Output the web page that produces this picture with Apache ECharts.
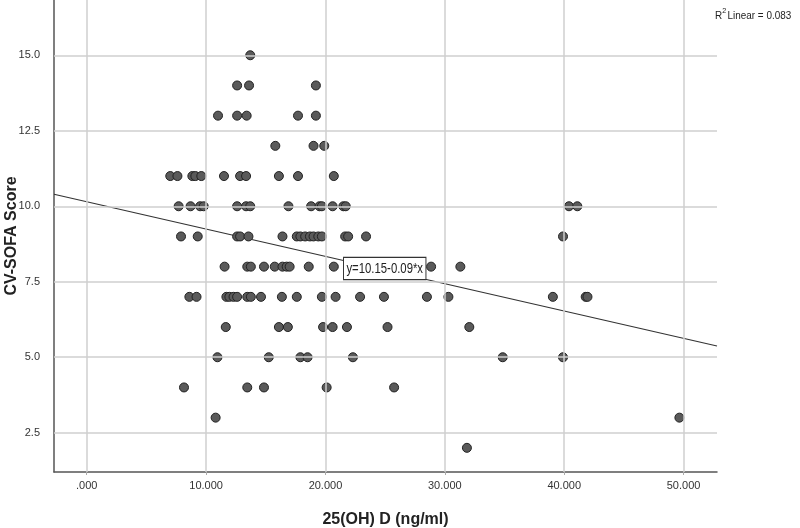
<!DOCTYPE html>
<html>
<head>
<meta charset="utf-8">
<script src="https://cdn.jsdelivr.net/npm/echarts@6/dist/echarts.min.js"></script>
<style>
  html, body { margin: 0; padding: 0; background: #fff; }
  #main { width: 800px; height: 528px; }
</style>
</head>
<body>
<div id="main"></div>
<script>
// 25(OH) D readings, grouped by CV-SOFA score
var score15 = [13.7];
var score14 = [12.6, 13.6, 19.2];
var score13 = [11.0, 12.6, 13.4, 17.7, 19.2];
var score12 = [15.8, 19.0, 19.9];
var score11 = [7.0, 7.6, 8.85, 9.1, 9.6, 11.5, 12.85, 13.35, 16.1, 17.7, 20.7];
var score10 = [7.7, 8.7, 9.5, 9.8, 12.6, 13.35, 13.7, 16.9, 18.8, 19.5, 19.7, 20.6, 21.5, 21.7, 40.4, 41.1];
var score9 = [7.9, 9.3, 12.6, 12.85, 13.55, 16.4, 17.6, 17.9, 18.3, 18.7, 19.0, 19.4, 19.7, 21.65, 21.9, 23.4, 39.9];
var score8 = [11.55, 13.45, 13.75, 14.85, 15.75, 16.4, 16.75, 17.0, 18.6, 20.7, 28.85, 31.3];
var score7 = [8.6, 9.2, 11.7, 11.95, 12.3, 12.6, 13.45, 13.75, 14.6, 16.35, 17.6, 19.7, 20.85, 22.9, 24.9, 28.5, 30.3, 39.05, 41.8, 41.95];
var score6 = [11.65, 16.1, 16.85, 19.8, 20.6, 21.8, 25.2, 32.05];
var score5 = [10.95, 15.25, 17.9, 18.5, 22.3, 34.85, 39.9];
var score4 = [8.15, 13.45, 14.85, 20.1, 25.75];
var score3 = [10.8, 49.65];
var score2 = [31.85];

var xTicks = [0, 10, 20, 30, 40, 50];
var yTicks = [2.5, 5, 7.5, 10, 12.5, 15];
var xMin = -2.74, xMax = 52.8;
var yMin = 1.2, yMax = 16.83;

// fit line: y = 10.15 - 0.09*x
var fitA = 10.15, fitB = -0.0905;

var groups = [
  [15, score15], [14, score14], [13, score13], [12, score12], [11, score11],
  [10, score10], [9, score9], [8, score8], [7, score7], [6, score6],
  [5, score5], [4, score4], [3, score3], [2, score2]
];
var points = [];
groups.forEach(function (g) {
  g[1].forEach(function (x) { points.push([x, g[0]]); });
});

var fitLine = [
  [xMin, fitA + fitB * xMin],
  [xMax, fitA + fitB * xMax]
];

var gridMarks = xTicks.map(function (v) { return { xAxis: v }; })
  .concat(yTicks.map(function (v) { return { yAxis: v }; }));

var font = "'Liberation Sans', Arial, sans-serif";

var chart = echarts.init(document.getElementById('main'));
chart.setOption({
  animation: false,
  backgroundColor: '#fff',
  grid: { left: 54, right: 83, top: 0, bottom: 56, containLabel: false, outerBoundsMode: 'none' },
  xAxis: {
    type: 'value',
    min: xMin,
    max: xMax,
    name: '25(OH) D (ng/ml)',
    nameLocation: 'middle',
    nameGap: 40,
    nameMoveOverlap: false,
    nameTextStyle: { fontFamily: font, fontSize: 16, fontWeight: 'bold', color: '#222' },
    axisLine: { show: true, onZero: false, lineStyle: { color: '#555', width: 1.5 } },
    axisTick: { show: true, length: 3, customValues: xTicks, lineStyle: { color: '#aaa' } },
    axisLabel: {
      customValues: xTicks,
      margin: 8,
      fontFamily: font,
      fontSize: 11,
      color: '#333',
      formatter: function (v) { var s = v.toFixed(3); return v === 0 ? s.slice(1) : s; }
    },
    splitLine: { show: false }
  },
  yAxis: {
    type: 'value',
    min: yMin,
    max: yMax,
    name: 'CV-SOFA Score',
    nameLocation: 'middle',
    nameGap: 34,
    nameMoveOverlap: false,
    nameTextStyle: { fontFamily: font, fontSize: 16, fontWeight: 'bold', color: '#222' },
    axisLine: { show: true, onZero: false, lineStyle: { color: '#555', width: 1.5 } },
    axisTick: { show: false },
    axisLabel: {
      customValues: yTicks,
      margin: 14,
      fontFamily: font,
      fontSize: 11,
      color: '#333',
      formatter: function (v) { return v.toFixed(1); }
    },
    splitLine: { show: false }
  },
  series: [
    {
      // grid lines at the tick values
      type: 'line',
      data: [],
      z: 1,
      silent: true,
      markLine: {
        silent: true,
        symbol: 'none',
        label: { show: false },
        lineStyle: { color: '#cfcfcf', width: 1.5, type: 'solid' },
        data: gridMarks
      }
    },
    {
      type: 'line',
      data: fitLine,
      z: 2,
      silent: true,
      symbol: 'none',
      lineStyle: { color: '#333', width: 1.2 }
    },
    {
      type: 'scatter',
      data: points,
      z: 3,
      symbolSize: 9,
      itemStyle: { color: '#5a5a5a', borderColor: '#222', borderWidth: 1, opacity: 1 }
    }
  ],
  graphic: [
    {
      type: 'text',
      x: 344,
      y: 258,
      scaleX: 0.81,
      z: 10,
      style: {
        text: 'y=10.15-0.09*x',
        font: '14px ' + font,
        fill: '#222',
        backgroundColor: '#fff',
        borderColor: '#333',
        borderWidth: 1.2,
        padding: [4, 3, 3, 3]
      }
    },
    {
      type: 'group',
      x: 715,
      y: 7,
      scaleX: 0.9,
      children: [
        { type: 'text', x: 0, y: 3, style: { text: 'R', font: '11px ' + font, fill: '#222' } },
        { type: 'text', x: 8, y: 0, style: { text: '2', font: '8px ' + font, fill: '#222' } },
        { type: 'text', x: 14, y: 3, style: { text: 'Linear = 0.083', font: '11px ' + font, fill: '#222' } }
      ]
    }
  ]
});
</script>
</body>
</html>
